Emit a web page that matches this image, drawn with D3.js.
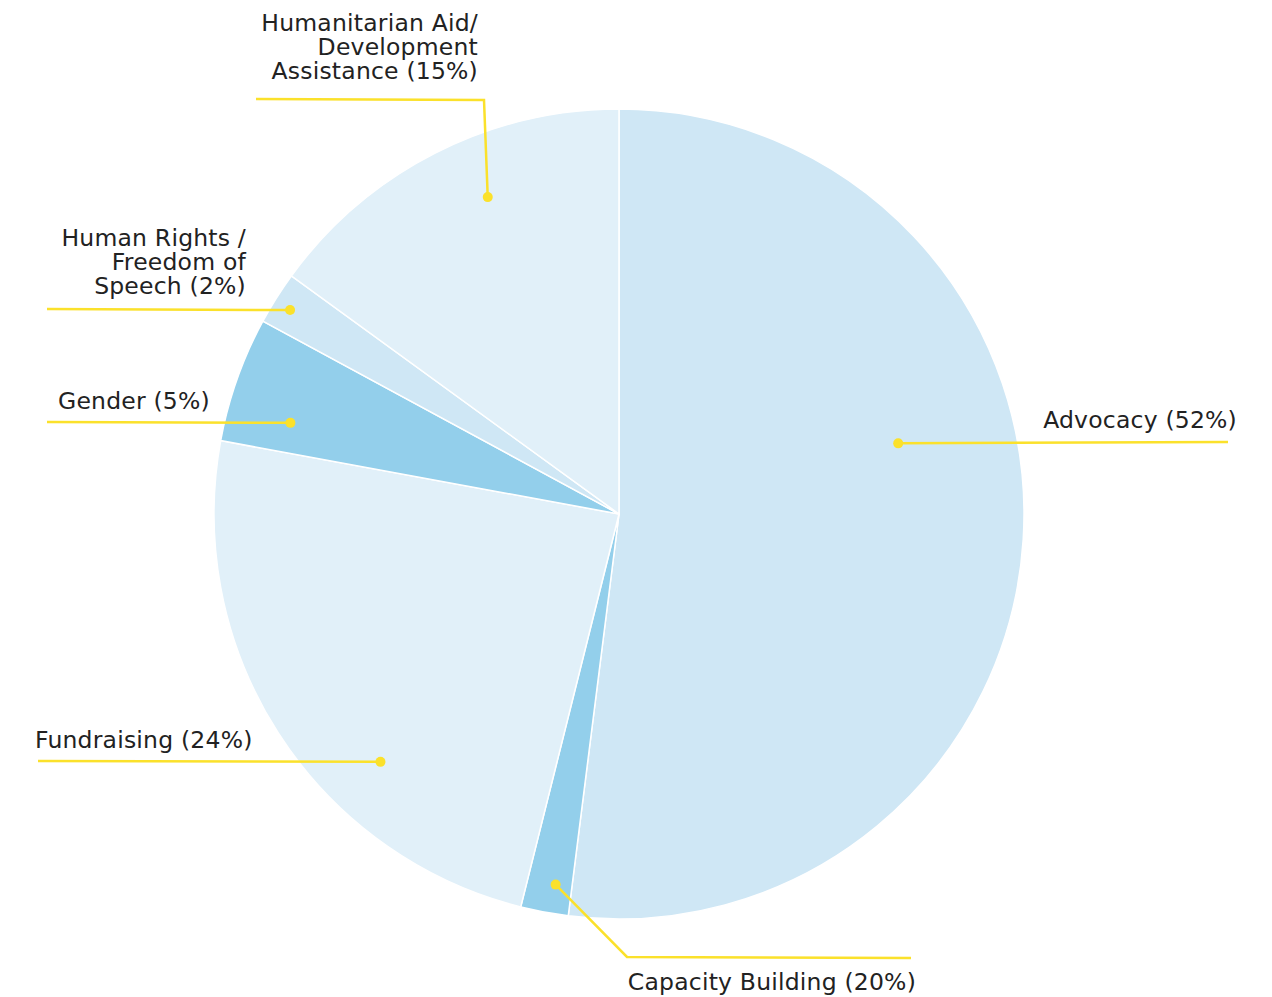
<!DOCTYPE html>
<html>
<head>
<meta charset="utf-8">
<script src="https://cdn.jsdelivr.net/npm/d3@7"></script>
<style>
  html, body { margin: 0; padding: 0; background: #fff; }
  svg text { font-family: "DejaVu Sans", "Noto Sans", sans-serif; font-size: 23.5px; letter-spacing: 0.2px; fill: #222; }
</style>
</head>
<body>
<svg id="chart" width="1272" height="997"></svg>
<script>
// data: slice sizes (percent of circle) and label texts
let categories = ['Advocacy', 'Capacity Building', 'Fundraising', 'Gender', 'Human Rights', 'Humanitarian'];
let values = [52, 1.9, 24, 5, 2.1, 15];
let labelLines = [
    ['Advocacy (52%)'],
    ['Capacity Building (20%)'],
    ['Fundraising (24%)'],
    ['Gender (5%)'],
    ['Human Rights /', 'Freedom of', 'Speech (2%)'],
    ['Humanitarian Aid/', 'Development', 'Assistance (15%)']
];

// colours per slice
let colors = ['#cfe7f5', '#93cfeb', '#e1f0f9', '#93cfeb', '#cfe7f5', '#e1f0f9'];
let yellow = '#fbe12b';

// label layout: dot at angle (deg, from top clockwise) + radius, then leader path points, text anchor
let labelLayout = [
    {a: 75.8, r: 288, path: [[1228, 442]], tx: 1237, ty: 428, anchor: 'end'},
    {a: 189.7, r: 376, path: [[627, 957], [911, 958]], tx: 916, ty: 990, anchor: 'end'},
    {a: 223.9, r: 344, path: [[38, 761]], tx: 35, ty: 748, anchor: 'start'},
    {a: 285.5, r: 341, path: [[47, 422]], tx: 58, ty: 409, anchor: 'start'},
    {a: 301.8, r: 387, path: [[47, 309]], tx: 246, ty: 246, anchor: 'end'},
    {a: 337.5, r: 343, path: [[484, 100], [256, 99]], tx: 478, ty: 31, anchor: 'end'}
];

let cx = 619, cy = 514, radius = 405;
let svg = d3.select('#chart');
let g = svg.append('g').attr('transform', 'translate(' + cx + ',' + cy + ')');

let pie = d3.pie().sort(null).value(function (d) { return d; });
let arc = d3.arc().innerRadius(0).outerRadius(radius);
let arcs = pie(values);

g.selectAll('path.slice')
    .data(arcs)
    .enter()
    .append('path')
    .attr('class', 'slice')
    .attr('d', arc)
    .attr('fill', function (d, i) { return colors[i]; })
    .attr('stroke', '#fff')
    .attr('stroke-width', 1.5);

//dot position from polar layout
let polar = function (l) {
    let t = l.a * Math.PI / 180;
    return [cx + l.r * Math.sin(t), cy - l.r * Math.cos(t)];
};

let line = d3.line();
let labels = svg.append('g');
labelLayout.forEach(function (l, i) {
    let p0 = polar(l);
    labels.append('path')
        .attr('d', line([p0].concat(l.path)))
        .attr('fill', 'none')
        .attr('stroke', yellow)
        .attr('stroke-width', 2.5);
    labels.append('circle')
        .attr('cx', p0[0])
        .attr('cy', p0[1])
        .attr('r', 5)
        .attr('fill', yellow);
    let t = labels.append('text')
        .attr('x', l.tx)
        .attr('y', l.ty)
        .attr('text-anchor', l.anchor);
    labelLines[i].forEach(function (s, k) {
        t.append('tspan')
            .attr('x', l.tx)
            .attr('dy', k === 0 ? 0 : 24)
            .text(s);
    });
});
</script>
</body>
</html>
